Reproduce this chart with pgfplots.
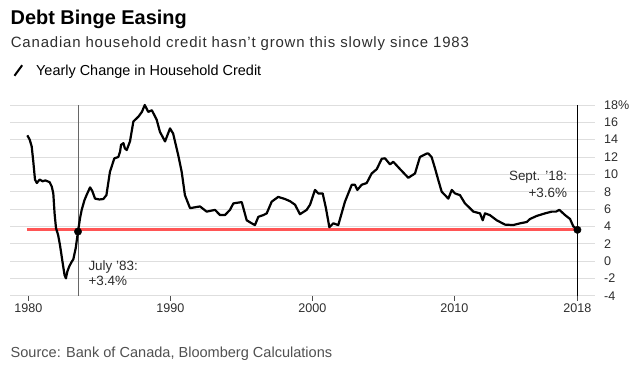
\documentclass[border=0pt]{standalone}
\usepackage{fontspec}
\setmainfont{Liberation Sans}
\usepackage{pgfplots}
\pgfplotsset{compat=1.18}
\definecolor{redline}{RGB}{255,85,85}
\definecolor{gridgray}{RGB}{222,222,222}
\definecolor{txtgray}{RGB}{45,45,45}
\definecolor{srcgray}{RGB}{80,80,80}
\begin{document}
\begin{tikzpicture}[x=1bp,y=1bp]
\path[use as bounding box] (0,0) rectangle (640,371);
\begin{axis}[
 at={(10bp,75.3bp)}, anchor=south west,
 scale only axis, width=585bp, height=190.7bp,
 xmin=1978.711, xmax=2019.908, ymin=-4, ymax=18,
 axis line style={draw=none},
 ytick={-4,-2,...,18},
 yticklabels={-4,-2,0,2,4,6,8,10,12,14,16,18\%},
 yticklabel pos=right,
 ytick style={draw=none},
 yticklabel style={anchor=west, inner sep=0pt, xshift=9bp, font=\fontsize{12.6}{14}\selectfont, text=txtgray},
 ymajorgrids, major grid style={gridgray, line width=1bp},
 extra y ticks={-4,0}, extra y tick labels={},
 extra y tick style={grid style={black!70, line width=1bp}, tick style={draw=none}},
 xtick={1980,1990,2000,2010,2018.67},
 xticklabels={1980,1990,2000,2010,2018},
 xtick pos=bottom,
 xtick align=outside, major tick length=5bp,
 xtick style={black!70, line width=0.8bp},
 xticklabel style={anchor=base, inner sep=0pt, yshift=-12bp, font=\fontsize{12.6}{14}\selectfont, text=txtgray},
 clip=false,
 legend style={at={(axis description cs:0.0056,1.181)}, anchor=west, draw=none, fill=none, inner sep=0pt,
   font=\fontsize{14.5}{16}\selectfont, nodes={inner sep=0pt, text=black},
   /tikz/every odd column/.append style={column sep=13bp}},
 legend image code/.code={\draw[black,line width=2bp] (0bp,-5bp) -- (7.7bp,5.5bp);},
]
\addplot[redline, line width=3bp, forget plot] coordinates {(1979.89,3.6) (2018.67,3.6)};
\addplot[black!60, line width=0.9bp, forget plot] coordinates {(1983.5,-4) (1983.5,18)};
\addplot[black, line width=0.9bp, forget plot] coordinates {(2018.67,-4) (2018.67,18)};
\addplot[black, line width=2.2bp, line join=round] coordinates {
(1979.93,14.5) (1980.1,14.0) (1980.24,13.2) (1980.35,11.5) (1980.47,9.4) (1980.6,9.0)
(1980.8,9.4) (1981.0,9.2) (1981.2,9.3) (1981.5,9.1) (1981.65,8.6) (1981.76,7.8)
(1981.85,5.5) (1981.95,3.8) (1982.1,3.0) (1982.23,1.85) (1982.4,0.0) (1982.55,-1.6)
(1982.65,-2.0) (1982.75,-1.2) (1982.89,-0.6) (1983.05,-0.1) (1983.17,0.2) (1983.34,1.5)
(1983.5,3.4) (1983.65,5.0) (1983.76,5.9) (1983.95,7.0) (1984.1,7.6) (1984.35,8.5)
(1984.5,8.1) (1984.7,7.2) (1985.0,7.1) (1985.28,7.15) (1985.5,7.6) (1985.75,10.3)
(1986.06,11.85) (1986.34,12.0) (1986.46,12.6) (1986.53,13.4) (1986.7,13.6) (1986.8,13.0)
(1986.93,12.8) (1987.16,13.8) (1987.4,16.1) (1987.75,16.65) (1988.0,17.2) (1988.2,18.0)
(1988.45,17.2) (1988.7,17.4) (1989.04,16.3) (1989.27,14.9) (1989.63,13.8) (1989.98,15.3)
(1990.2,14.7) (1990.56,12.2) (1990.8,10.3) (1991.03,7.6) (1991.39,6.1) (1992.09,6.3)
(1992.56,5.7) (1993.15,5.9) (1993.5,5.3) (1993.85,5.3) (1994.2,5.9) (1994.44,6.65)
(1995.03,6.8) (1995.38,4.7) (1995.73,4.35) (1995.96,4.15) (1996.2,5.1) (1996.55,5.3)
(1996.79,5.5) (1997.14,6.85) (1997.6,7.4) (1998.08,7.15) (1998.43,6.9) (1998.78,6.5)
(1999.13,5.4) (1999.6,5.9) (1999.84,6.5) (2000.19,8.2) (2000.42,7.8) (2000.73,7.8)
(2000.96,6.1) (2001.2,3.9) (2001.48,4.35) (2001.83,4.15) (2002.3,6.85) (2002.78,8.8)
(2003.0,8.8) (2003.17,8.2) (2003.48,8.8) (2003.83,9.0) (2004.18,10.1) (2004.54,10.6)
(2004.89,11.8) (2005.12,11.85) (2005.47,11.15) (2005.7,11.45) (2006.18,10.6) (2006.76,9.6)
(2007.23,10.1) (2007.58,12.0) (2008.06,12.4) (2008.17,12.4) (2008.4,12.0) (2008.64,10.7)
(2008.87,9.35) (2009.11,8.0) (2009.58,7.2) (2009.82,8.2) (2010.05,7.8) (2010.4,7.6)
(2010.75,6.65) (2011.1,6.1) (2011.34,5.7) (2011.81,5.5) (2012.0,4.7) (2012.16,5.5)
(2012.5,5.3) (2012.99,4.7) (2013.57,4.2) (2014.15,4.15) (2014.63,4.35) (2015.1,4.5)
(2015.33,4.85) (2015.8,5.2) (2016.39,5.5) (2016.86,5.7) (2017.16,5.7) (2017.4,5.9)
(2017.8,5.3) (2018.15,4.85) (2018.38,4.0) (2018.67,3.6)
};
\addlegendentry{Yearly Change in Household Credit}
\addplot[only marks, mark=*, mark size=3.7bp, black, forget plot] coordinates {(1983.5,3.4) (2018.67,3.6)};
\end{axis}
\node[anchor=base west, inner sep=0pt] at (10.5,347) {\fontsize{20}{24}\selectfont\bfseries Debt Binge Easing};
\node[anchor=base west, inner sep=0pt, text=txtgray] at (10.7,323.7) {\fontsize{15}{18}\selectfont\addfontfeature{LetterSpace=5.5}Canadian household credit hasn't grown this slowly since 1983};
\node[anchor=base west, inner sep=0pt, text=srcgray] at (10.5,14) {\fontsize{14.6}{17}\selectfont Source: Bank of Canada, Bloomberg Calculations};
\node[anchor=base west, inner sep=0pt, text=txtgray] at (88.3,100.7) {\fontsize{13.5}{16}\selectfont July '83:};
\node[anchor=base west, inner sep=0pt, text=txtgray] at (88.3,86) {\fontsize{13.5}{16}\selectfont +3.4\%};
\node[anchor=base east, inner sep=0pt, text=txtgray] at (567.3,190.3) {\fontsize{13.5}{16}\selectfont Sept. '18:};
\node[anchor=base east, inner sep=0pt, text=txtgray] at (567.3,174) {\fontsize{13.5}{16}\selectfont +3.6\%};
\end{tikzpicture}
\end{document}
